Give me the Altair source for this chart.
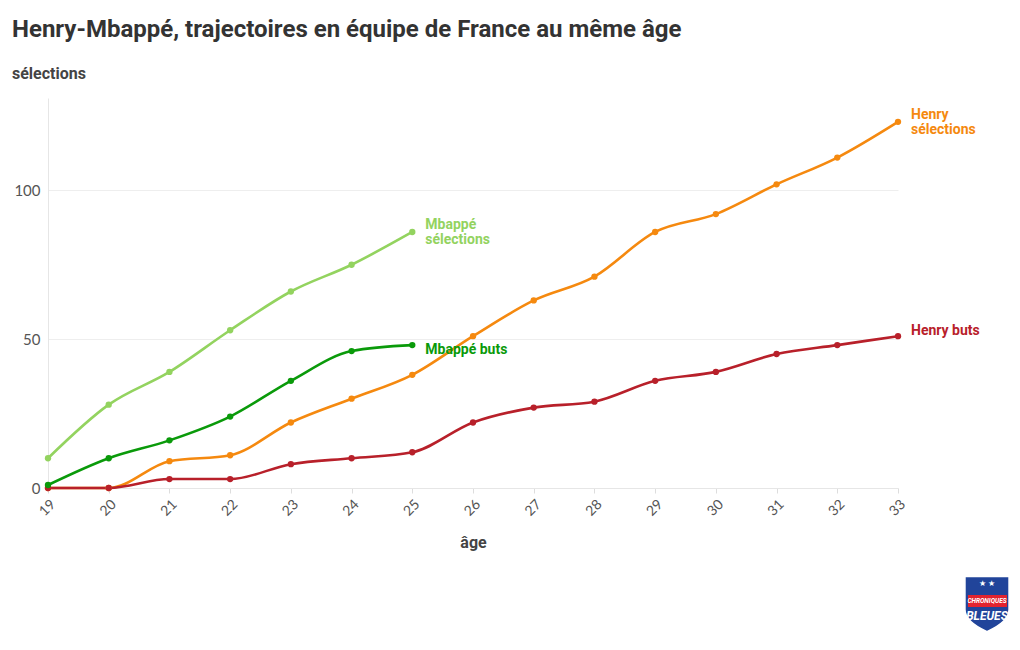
import altair as alt
import pandas as pd

ages_henry = list(range(19, 34))
henry_sel = [0, 0, 9, 11, 22, 30, 38, 51, 63, 71, 86, 92, 102, 111, 123]
henry_buts = [0, 0, 3, 3, 8, 10, 12, 22, 27, 29, 36, 39, 45, 48, 51]
ages_mbappe = list(range(19, 26))
mbappe_sel = [10, 28, 39, 53, 66, 75, 86]
mbappe_buts = [1, 10, 16, 24, 36, 46, 48]

series_names = ["Henry sélections", "Henry buts", "Mbappé sélections", "Mbappé buts"]
series_colors = ["#f5890f", "#b8202a", "#93d35f", "#0a9a0a"]
series_labels = [["Henry", "sélections"], ["Henry buts"], ["Mbappé", "sélections"], ["Mbappé buts"]]
label_dy = [-7, -5, -7, 5]

rows = []
for name, ages, vals in [
    ("Henry sélections", ages_henry, henry_sel),
    ("Henry buts", ages_henry, henry_buts),
    ("Mbappé sélections", ages_mbappe, mbappe_sel),
    ("Mbappé buts", ages_mbappe, mbappe_buts),
]:
    for a, v in zip(ages, vals):
        rows.append({"serie": name, "age": a, "valeur": v})
df = pd.DataFrame(rows)

FONT = "Roboto"
NUMFONT = "Lato"

color = alt.Color("serie:N", scale=alt.Scale(domain=series_names, range=series_colors), legend=None)
x = alt.X("age:Q", scale=alt.Scale(domain=[19, 33], nice=False),
          axis=alt.Axis(values=ages_henry, labelAngle=315, grid=False, domainColor="#e6e6e6",
                        tickColor="#dddddd", tickSize=5, labelFont=NUMFONT, labelFontSize=14,
                        labelColor="#555555", labelPadding=4, title="âge", titleFont=FONT,
                        titleFontSize=16, titleFontWeight="bold", titleColor="#444444",
                        titlePadding=16))
y = alt.Y("valeur:Q", scale=alt.Scale(domain=[0, 131], nice=False),
          axis=alt.Axis(values=[0, 50, 100], title=None, grid=True, gridColor="#eeeeee",
                        domain=True, domainColor="#e6e6e6", ticks=False, labelFont=NUMFONT,
                        labelFontSize=15, labelColor="#555555", labelPadding=8))

base = alt.Chart(df)
lines = []
points = []
for name in series_names:
    sub = base.transform_filter(alt.datum.serie == name)
    lines.append(sub.mark_line(interpolate="monotone", strokeWidth=2.6).encode(x=x, y=y, color=color))
    points.append(sub.mark_circle(size=40, opacity=1).encode(x=x, y=y, color=color))

texts = []
for name, col, lab, dy in zip(series_names, series_colors, series_labels, label_dy):
    last = base.transform_filter(alt.datum.serie == name).transform_window(
        rk="rank()", sort=[alt.SortField("age", order="descending")]
    ).transform_filter(alt.datum.rk == 1)
    texts.append(last.mark_text(align="left", baseline="middle", dx=13, dy=dy, font=FONT,
                                fontSize=14, fontWeight="bold", color=col, lineHeight=15,
                                text=lab).encode(x=x, y=y))

dummy = alt.Data(values=[{"a": 1}])
shield = alt.Chart(dummy).mark_point(
    shape="M -0.9 -1 L 0.9 -1 L 0.9 0.35 Q 0.9 0.85 0 1.25 Q -0.9 0.85 -0.9 0.35 Z",
    filled=True, fill="#21449a", stroke="#ffffff", strokeWidth=1.5, size=2400, opacity=1
).encode(x=alt.value(939), y=alt.value(503))
band = alt.Chart(dummy).mark_rect(color="#e2232f").encode(
    x=alt.value(920), x2=alt.value(959), y=alt.value(497), y2=alt.value(509))
stars = alt.Chart(dummy).mark_text(text="★ ★", color="#ffffff", fontSize=8, font=FONT).encode(
    x=alt.value(939), y=alt.value(486))
chron = alt.Chart(dummy).mark_text(text="CHRONIQUES", color="#ffffff", fontSize=6.5, font=FONT,
                                    fontWeight="bold", fontStyle="italic").encode(
    x=alt.value(939), y=alt.value(503))
bleues = alt.Chart(dummy).mark_text(text="BLEUES", color="#ffffff", fontSize=12, font=FONT,
                                     fontWeight="bold", fontStyle="italic").encode(
    x=alt.value(939), y=alt.value(518))

chart = alt.layer(*lines, *points, *texts, shield, band, stars, chron, bleues).properties(
    width=850, height=390,
    title=alt.TitleParams(
        text="Henry-Mbappé, trajectoires en équipe de France au même âge",
        subtitle="sélections", anchor="start", frame="group", dx=-36, offset=16,
        font=FONT, fontSize=24, fontWeight="bold", color="#333333",
        subtitleFont=FONT, subtitleFontSize=16, subtitleFontWeight="bold",
        subtitleColor="#444444", subtitlePadding=24),
    autosize=alt.AutoSizeParams(type="none"),
    padding={"left": 40, "top": 90, "right": 114, "bottom": 150},
).configure(background="#ffffff").configure_view(stroke=None)

chart.save("out.html", embed_options={"renderer": "svg", "actions": False})
